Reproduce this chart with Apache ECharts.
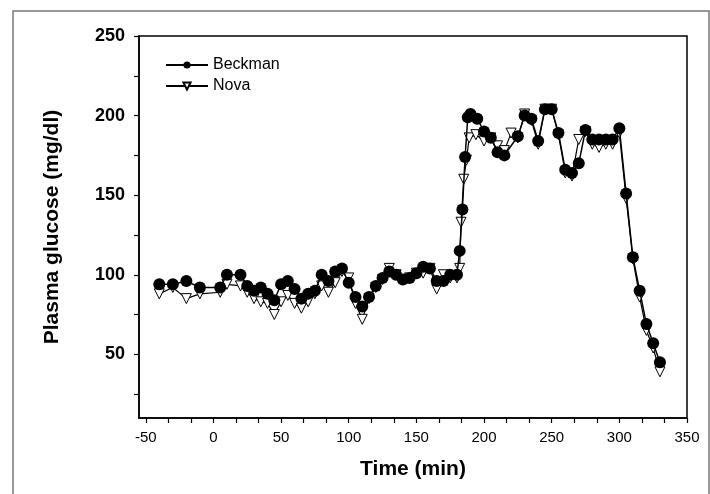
<!DOCTYPE html>
<html>
<head>
<meta charset="UTF-8">
<title>Plasma glucose</title>
<script src="https://cdn.jsdelivr.net/npm/echarts@6/dist/echarts.min.js"></script>
<style>
  html, body { margin: 0; padding: 0; background: #fff; }
  #chart { width: 710px; height: 494px; }
</style>
</head>
<body>
<div id="chart"></div>
<script type="text/javascript">
// time (min) and glucose (mg/dl)
var beckmanTime = [-40, -30, -20, -10, 5, 10, 20, 25, 30, 35, 40, 45, 50, 55, 60, 65, 70, 75, 80, 85,
  90, 95, 100, 105, 110, 115, 120, 125, 130, 135, 140, 145, 150, 155, 160, 165, 170, 175, 180, 182,
  184, 186, 188, 190, 195, 200, 205, 210, 215, 225, 230, 235, 240, 245, 250, 255, 260, 265, 270, 275,
  280, 285, 290, 295, 300, 305, 310, 315, 320, 325, 330];
var beckmanValue = [94, 94, 96, 92, 92, 100, 100, 93, 90, 92, 88, 84, 94, 96, 91, 85, 88, 90, 100, 96,
  102, 104, 95, 86, 80, 86, 93, 98, 102, 100, 97, 98, 101, 105, 104, 96, 96, 100, 100, 115,
  141, 174, 199, 201, 198, 190, 186, 177, 175, 187, 200, 198, 184, 204, 204, 189, 166, 164, 170, 191,
  185, 185, 185, 185, 192, 151, 111, 90, 69, 57, 45];

var novaTime = [-40, -30, -20, -10, 5, 10, 20, 25, 30, 35, 40, 45, 50, 55, 60, 65, 70, 75, 80, 85,
  90, 95, 100, 105, 110, 115, 120, 125, 130, 135, 140, 145, 150, 155, 160, 165, 170, 175, 180, 182,
  183, 185, 187, 189, 194, 200, 205, 210, 215, 220, 225, 230, 235, 240, 245, 250, 255, 260, 265, 270,
  275, 280, 285, 290, 295, 300, 305, 310, 315, 320, 325, 330];
var novaValue = [88, 92, 85, 88, 89, 94, 93, 89, 85, 83, 82, 75, 83, 87, 82, 79, 83, 88, 93, 89,
  95, 102, 98, 82, 72, 85, 92, 97, 104, 100, 97, 98, 101, 101, 104, 91, 100, 98, 98, 104,
  133, 160, 172, 186, 188, 184, 186, 181, 178, 189, 186, 201, 197, 182, 204, 204, 188, 164, 162, 185,
  190, 182, 180, 182, 182, 189, 148, 110, 86, 65, 54, 39];

var xLabels = [-50, 0, 50, 100, 150, 200, 250, 300, 350];
var yLabels = [50, 100, 150, 200, 250];
var yTicks = [25, 50, 75, 100, 125, 150, 175, 200, 225, 250];

function pairs(xs, ys) {
  var out = [];
  for (var i = 0; i < xs.length; i++) out.push([xs[i], ys[i]]);
  return out;
}
// three minor steps between labelled x ticks
var xTicks = [];
for (var k = 0; k <= 24; k++) xTicks.push(-50 + k * 50 / 3);

var font = 'Liberation Sans, Arial, Helvetica, sans-serif';
var chart = echarts.init(document.getElementById('chart'));
chart.setOption({
  animation: false,
  textStyle: { fontFamily: font },
  graphic: [{
    type: 'rect',
    shape: { x: 13, y: 11, width: 696, height: 490 },
    style: { fill: 'none', stroke: '#777', lineWidth: 1.5 },
    silent: true
  }],
  grid: {
    left: 139, right: 23, top: 36, bottom: 76,
    show: true, borderColor: '#000', borderWidth: 1.5
  },
  legend: {
    orient: 'vertical',
    left: 160, top: 52,
    itemWidth: 42, itemHeight: 9, itemGap: 5,
    data: ['Beckman', 'Nova'],
    textStyle: { fontFamily: font, fontSize: 16, color: '#000' }
  },
  xAxis: {
    type: 'value', min: -55, max: 350,
    name: 'Time (min)', nameLocation: 'middle', nameGap: 41,
    nameTextStyle: { fontFamily: font, fontSize: 21, fontWeight: 'bold', color: '#000' },
    axisLine: { onZero: false, lineStyle: { color: '#000', width: 1.5 } },
    axisTick: { customValues: xTicks, length: 5, lineStyle: { color: '#000', width: 1.2 } },
    axisLabel: { customValues: xLabels, fontSize: 15, color: '#000', margin: 12 },
    splitLine: { show: false }
  },
  yAxis: {
    type: 'value', min: 10, max: 250,
    name: 'Plasma glucose (mg/dl)', nameLocation: 'middle', nameGap: 76,
    nameTextStyle: { fontFamily: font, fontSize: 21, fontWeight: 'bold', color: '#000' },
    axisLine: { onZero: false, lineStyle: { color: '#000', width: 1.5 } },
    axisTick: { customValues: yTicks, length: 5, lineStyle: { color: '#000', width: 1.2 } },
    axisLabel: { customValues: yLabels, fontSize: 18, fontWeight: 'bold', color: '#000', margin: 14 },
    splitLine: { show: false }
  },
  series: [{
    name: 'Beckman',
    type: 'line',
    z: 3,
    symbol: 'circle',
    symbolSize: 12,
    itemStyle: { color: '#000' },
    lineStyle: { color: '#000', width: 1.5 },
    data: pairs(beckmanTime, beckmanValue)
  }, {
    name: 'Nova',
    type: 'line',
    z: 2,
    symbol: 'triangle',
    symbolRotate: 180,
    symbolSize: 10,
    itemStyle: { color: '#fff', borderColor: '#000', borderWidth: 1 },
    lineStyle: { color: '#000', width: 1.2 },
    data: pairs(novaTime, novaValue)
  }]
});
</script>
</body>
</html>
